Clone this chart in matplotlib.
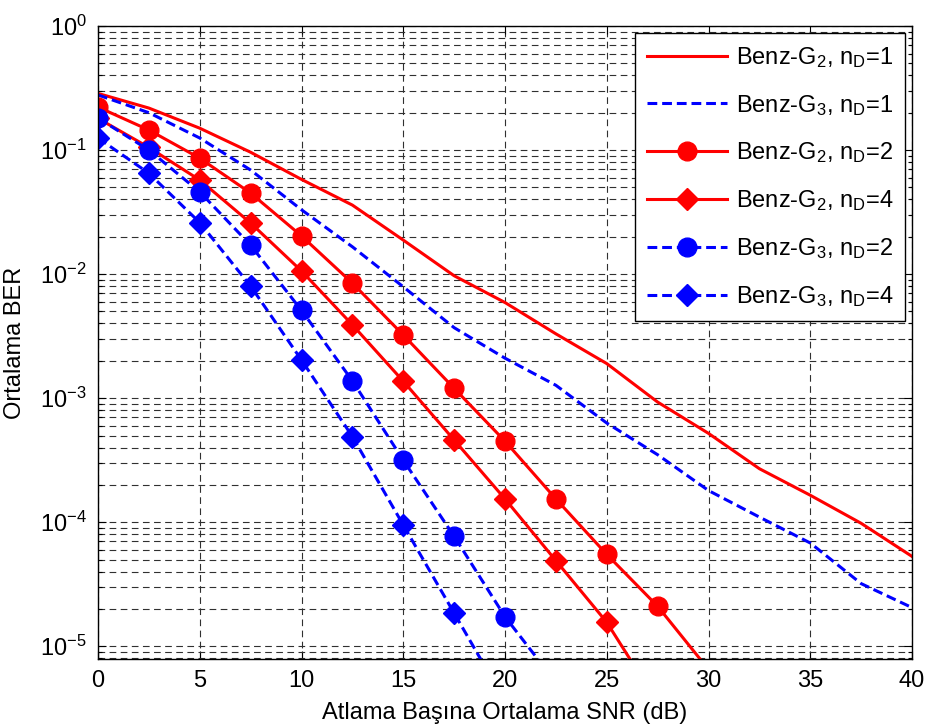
import numpy as np
import matplotlib.pyplot as plt
from matplotlib.ticker import LogLocator, NullFormatter

plt.rcParams['font.family'] = ['Liberation Sans', 'DejaVu Sans']
plt.rcParams['mathtext.fontset'] = 'custom'
plt.rcParams['mathtext.rm'] = 'Liberation Sans'
plt.rcParams['mathtext.it'] = 'Liberation Sans'
plt.rcParams['mathtext.default'] = 'regular'

# SNR axis (dB)
snr = [0, 2.5, 5, 7.5, 10, 12.5, 15, 17.5, 20, 22.5, 25, 27.5, 30, 32.5, 35, 37.5, 40]

# Benz-G2, nD=1
ber_g2_n1 = [0.286, 0.218, 0.150, 0.096, 0.058, 0.036, 0.0188, 0.0097, 0.0059,
             0.0033, 0.0019, 9.3e-4, 5.2e-4, 2.7e-4, 1.65e-4, 9.8e-5, 5.3e-5]
# Benz-G3, nD=1
ber_g3_n1 = [0.278, 0.20, 0.125, 0.069, 0.033, 0.0166, 0.0079, 0.0037, 0.0021,
             0.00127, 6.3e-4, 3.5e-4, 1.8e-4, 1.1e-4, 6.8e-5, 3.2e-5, 2.05e-5]

snr_g2_n2 = [0, 2.5, 5, 7.5, 10, 12.5, 15, 17.5, 20, 22.5, 25, 27.5, 30]
ber_g2_n2 = [0.222, 0.145, 0.086, 0.045, 0.0203, 0.00846, 0.00323, 0.0012, 4.5e-4,
             1.54e-4, 5.5e-5, 2.1e-5, 6.5e-6]

snr_g2_n4 = [0, 2.5, 5, 7.5, 10, 12.5, 15, 17.5, 20, 22.5, 25, 27.5]
ber_g2_n4 = [0.18, 0.105, 0.0573, 0.0258, 0.0106, 0.0039, 0.00137, 4.6e-4, 1.54e-4,
             4.9e-5, 1.56e-5, 3.5e-6]

snr_g3_n2 = [0, 2.5, 5, 7.5, 10, 12.5, 15, 17.5, 20, 22.5]
ber_g3_n2 = [0.181, 0.10, 0.046, 0.0171, 0.0051, 0.00138, 3.16e-4, 7.7e-5, 1.73e-5, 5.1e-6]

snr_g3_n4 = [0, 2.5, 5, 7.5, 10, 12.5, 15, 17.5, 20]
ber_g3_n4 = [0.125, 0.065, 0.026, 0.008, 0.00203, 4.9e-4, 9.5e-5, 1.85e-5, 3.6e-6]

fig = plt.figure(figsize=(9.28, 7.28), dpi=100)
ax = fig.add_axes([0.1056, 0.0948, 0.8772, 0.8695])

lw = 2.2
ms = 13.5
dash = (0, (3.2, 1.6))
ax.semilogy(snr, ber_g2_n1, color='#ff0000', lw=lw, label='Benz-G$_2$, n$_D$=1')
ax.semilogy(snr, ber_g3_n1, color='#0000ff', lw=lw, linestyle=dash, label='Benz-G$_3$, n$_D$=1')
ax.semilogy(snr_g2_n2, ber_g2_n2, color='#ff0000', lw=lw, marker='o', ms=ms,
            label='Benz-G$_2$, n$_D$=2')
ax.semilogy(snr_g2_n4, ber_g2_n4, color='#ff0000', lw=lw, marker='D', ms=ms * 0.85,
            label='Benz-G$_2$, n$_D$=4')
ax.semilogy(snr_g3_n2, ber_g3_n2, color='#0000ff', lw=lw, linestyle=dash, marker='o', ms=ms,
            label='Benz-G$_3$, n$_D$=2')
ax.semilogy(snr_g3_n4, ber_g3_n4, color='#0000ff', lw=lw, linestyle=dash, marker='D', ms=ms * 0.85,
            label='Benz-G$_3$, n$_D$=4')

ax.set_xlim(0, 40)
ax.set_ylim(7.9e-6, 1)
ax.set_xticks(np.arange(0, 41, 5))
ax.yaxis.set_major_locator(LogLocator(base=10, numticks=10))
ax.yaxis.set_minor_locator(LogLocator(base=10, subs=np.arange(2, 10), numticks=20))
ax.yaxis.set_minor_formatter(NullFormatter())

gridstyle = dict(color='#303030', linestyle=(0, (6, 4)), linewidth=0.8)
ax.grid(True, which='major', **gridstyle)
ax.grid(True, which='minor', axis='y', **gridstyle)
ax.set_axisbelow(True)

ax.tick_params(which='both', direction='in', top=True, right=True, labelsize=17, width=0.8)
ax.tick_params(which='major', length=6, pad=8)
ax.tick_params(which='minor', length=3)
for s in ax.spines.values():
    s.set_linewidth(1.0)

ax.set_xlabel('Atlama Başına Ortalama SNR (dB)', fontsize=17, labelpad=7)
ax.set_ylabel('Ortalama BER', fontsize=17, labelpad=10)

leg = ax.legend(loc='upper right', fontsize=17, handlelength=3.4, handletextpad=0.35,
                numpoints=1, fancybox=False, framealpha=1, edgecolor='black',
                borderpad=0.5, labelspacing=0.97, borderaxespad=0.3)
leg.get_frame().set_linewidth(1.0)

fig.savefig('out.png', dpi=100)
